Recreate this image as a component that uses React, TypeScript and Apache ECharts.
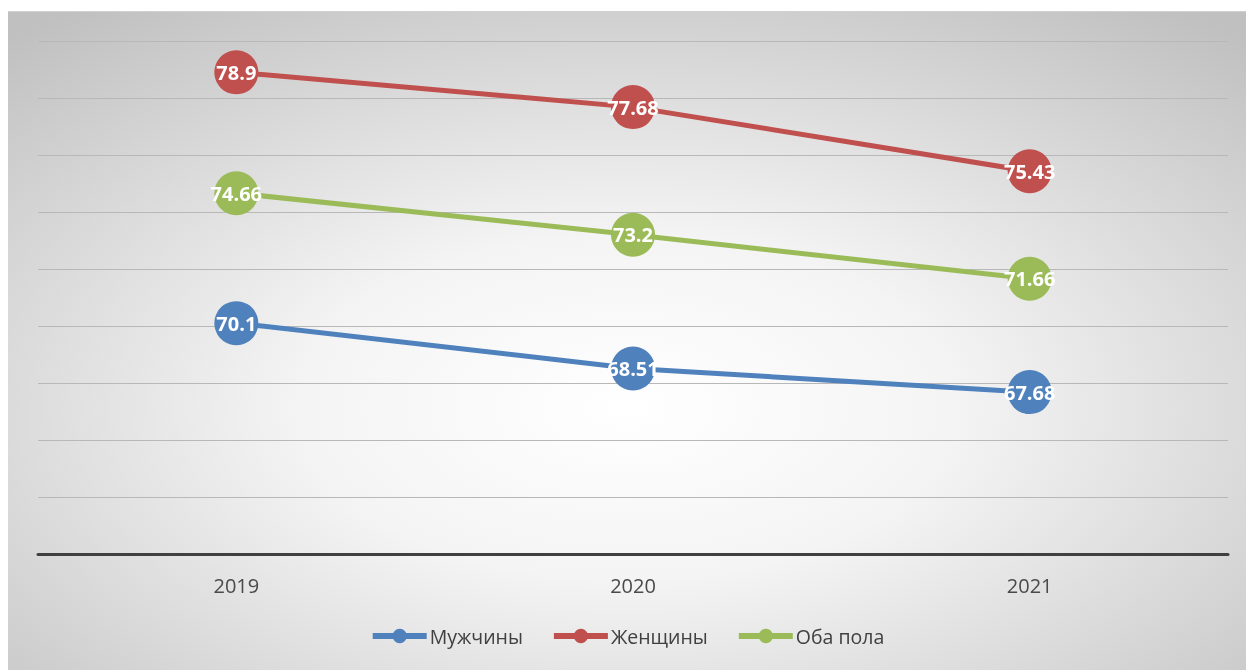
import React, { useEffect, useRef } from "react";
import * as echarts from "echarts";

const categories = ["2019", "2020", "2021"];
const men = [70.1, 68.51, 67.68];
const women = [78.9, 77.68, 75.43];
const both = [74.66, 73.2, 71.66];
const seriesNames = ["Мужчины", "Женщины", "Оба пола"];
const colors = ["#4F81BD", "#C0504D", "#9BBB59"];

export default function App() {
  const ref = useRef<HTMLDivElement>(null);
  useEffect(() => {
    if (!ref.current) return;
    const chart = echarts.init(ref.current, undefined, { renderer: "svg" });
    const mk = (name: string, data: number[], color: string) => ({
      name,
      type: "line",
      data,
      symbol: "circle",
      symbolSize: 44,
      itemStyle: { color },
      lineStyle: { color, width: 5 },
      label: {
        show: true,
        position: "inside",
        color: "#ffffff",
        fontWeight: "bold",
        fontSize: 20,
        fontFamily: "Open Sans, sans-serif",
      },
    });
    chart.setOption({
      animation: false,
      backgroundColor: new echarts.graphic.RadialGradient(0.5, 0.6, 0.75, [
        { offset: 0, color: "#ffffff" },
        { offset: 0.35, color: "#f4f4f4" },
        { offset: 1, color: "#c0c0c0" },
      ]),
      grid: { left: 30, top: 29, width: 1190, height: 513, containLabel: false },
      xAxis: {
        type: "category",
        data: categories,
        boundaryGap: true,
        axisLine: { show: true, lineStyle: { color: "#404040", width: 3 } },
        axisTick: { show: false },
        axisLabel: {
          color: "#4a4a4a",
          fontSize: 20,
          margin: 21,
          fontFamily: "Open Sans, sans-serif",
        },
        splitLine: { show: false },
      },
      yAxis: {
        type: "value",
        min: 62,
        max: 80,
        interval: 2,
        axisLine: { show: false },
        axisTick: { show: false },
        axisLabel: { show: false },
        splitLine: { show: true, lineStyle: { color: "#b8b8b8", width: 1 } },
      },
      legend: {
        bottom: 19,
        left: "center",
        itemWidth: 54,
        itemHeight: 18,
        itemGap: 28,
        lineStyle: { width: 6 },
        textStyle: {
          color: "#404040",
          fontSize: 19.5,
          fontFamily: "Open Sans, sans-serif",
          padding: [0, 0, 0, -2],
        },
        data: seriesNames,
      },
      series: [
        mk(seriesNames[0], men, colors[0]),
        mk(seriesNames[1], women, colors[1]),
        mk(seriesNames[2], both, colors[2]),
      ],
    });
    return () => chart.dispose();
  }, []);
  return (
    <div
      ref={ref}
      style={{
        position: "fixed",
        left: 8,
        top: 11,
        width: 1238,
        height: 659,
        borderTop: "1px solid #d0d0d0",
        boxSizing: "border-box",
      }}
    />
  );
}
